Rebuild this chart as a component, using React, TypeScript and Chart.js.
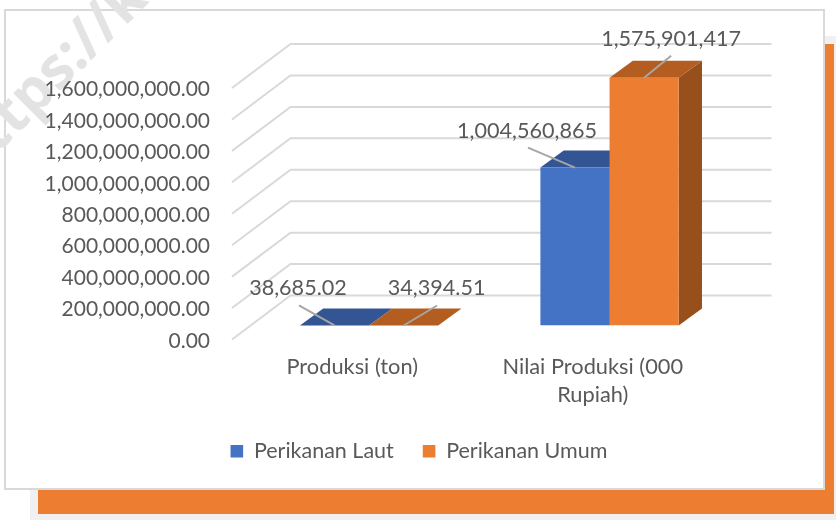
import React, { useEffect, useRef } from "react";
import { Chart, registerables } from "chart.js";

Chart.register(...registerables);

const categories: (string | string[])[] = ["Produksi (ton)", ["Nilai Produksi (000", "Rupiah)"]];
const seriesNames = ["Perikanan Laut", "Perikanan Umum"];
const perikananLaut = [38685.02, 1004560865];
const perikananUmum = [34394.51, 1575901417];
const yMax = 1600000000;
const yStep = 200000000;

const FONT = "Lato, 'Open Sans', sans-serif";
const TEXT = "#595959";
const GRID = "#d9d9d9";
const LEADER = "#a6a6a6";
const FILL = ["#4472c4", "#ed7d31"];
const TOP_FACE = ["#335593", "#b35d20"];
const SIDE_FACE = ["#2a4a80", "#97501b"];

// Perspective of the chart's box
const WALL = { dx: 58.5, dy: -44 };
const BAR_SHIFT = { dx: 16.8, dy: -14 };
const BAR_DEPTH = { dx: 23.3, dy: -17 };
const LEGEND_SHIFT = 62.5;
const MARKS_LIFT = -1.5; // tick text sits slightly below the line it labels

// Data label placement, relative to the middle of each bar's front top edge [series][category]
const LABEL_OFFSET = [
  [{ tx: -36.5, ty: -37, lx: -35.5, ly: -20 }, { tx: -48, ty: -37, lx: -47, ly: -20 }],
  [{ tx: 33, ty: -37, lx: 33.5, ly: -20 }, { tx: 27, ty: -39, lx: 27, ly: -22 }],
];

const fmt = (v: number, digits: number) =>
  v.toLocaleString("en-US", { minimumFractionDigits: digits, maximumFractionDigits: digits });

const box3d = {
  id: "box3d",
  afterLayout(chart: any) {
    chart.legend.left += LEGEND_SHIFT;
    chart.legend.right += LEGEND_SHIFT;
  },
  beforeDatasetsDraw(chart: any) {
    const { ctx, chartArea, scales } = chart;
    const y = scales.y;
    ctx.save();
    ctx.translate(0, MARKS_LIFT);
    ctx.strokeStyle = GRID;
    ctx.lineWidth = 2;
    y.ticks.forEach((_: any, i: number) => {
      const py = y.getPixelForTick(i);
      ctx.beginPath();
      ctx.moveTo(chartArea.left, py);
      ctx.lineTo(chartArea.left + WALL.dx, py + WALL.dy);
      ctx.lineTo(chartArea.right + WALL.dx, py + WALL.dy);
      ctx.stroke();
    });
    ctx.translate(BAR_SHIFT.dx, BAR_SHIFT.dy);
    chart.data.datasets.forEach((_: any, d: number) => {
      chart.getDatasetMeta(d).data.forEach((bar: any) => {
        const { x, y: top, base, width } = bar.getProps(["x", "y", "base", "width"], true);
        const l = x - width / 2;
        const r = x + width / 2;
        ctx.fillStyle = SIDE_FACE[d];
        ctx.beginPath();
        ctx.moveTo(r, top);
        ctx.lineTo(r + BAR_DEPTH.dx, top + BAR_DEPTH.dy);
        ctx.lineTo(r + BAR_DEPTH.dx, base + BAR_DEPTH.dy);
        ctx.lineTo(r, base);
        ctx.closePath();
        ctx.fill();
        ctx.fillStyle = TOP_FACE[d];
        ctx.beginPath();
        ctx.moveTo(l, top);
        ctx.lineTo(l + BAR_DEPTH.dx, top + BAR_DEPTH.dy);
        ctx.lineTo(r + BAR_DEPTH.dx, top + BAR_DEPTH.dy);
        ctx.lineTo(r, top);
        ctx.closePath();
        ctx.fill();
      });
    });
    // the bars' front faces are drawn by Chart.js inside this shift
  },
  afterDatasetsDraw(chart: any) {
    const { ctx } = chart;
    ctx.restore();
    ctx.save();
    ctx.translate(BAR_SHIFT.dx, BAR_SHIFT.dy + MARKS_LIFT);
    chart.data.datasets.forEach((ds: any, d: number) => {
      chart.getDatasetMeta(d).data.forEach((bar: any, c: number) => {
        const { x, y: top } = bar.getProps(["x", "y"], true);
        const o = LABEL_OFFSET[d][c];
        ctx.strokeStyle = LEADER;
        ctx.lineWidth = 2;
        ctx.beginPath();
        ctx.moveTo(x + o.lx, top + o.ly);
        ctx.lineTo(x, top);
        ctx.stroke();
        const v = ds.data[c];
        ctx.font = `21.6px ${FONT}`;
        ctx.fillStyle = TEXT;
        ctx.textAlign = "center";
        ctx.textBaseline = "middle";
        ctx.fillText(fmt(v, Number.isInteger(v) ? 0 : 2), x + o.tx, top + o.ty);
      });
    });
    ctx.restore();
  },
};

const page: React.CSSProperties = { position: "fixed", left: 0, top: 0, width: 836, height: 520, background: "#fff", overflow: "hidden" };
const abs = (left: number, top: number, width: number, height: number, extra: React.CSSProperties = {}): React.CSSProperties => ({
  position: "absolute", left, top, width, height, boxSizing: "border-box", ...extra,
});

export default function App() {
  const ref = useRef<HTMLCanvasElement>(null);
  useEffect(() => {
    const chart = new Chart(ref.current!, {
      type: "bar",
      data: {
        labels: categories as any,
        datasets: [
          { label: seriesNames[0], data: perikananLaut, backgroundColor: FILL[0] },
          { label: seriesNames[1], data: perikananUmum, backgroundColor: FILL[1] },
        ],
      },
      plugins: [box3d],
      options: {
        animation: false,
        responsive: false,
        layout: { padding: { left: 0, right: 123, top: 89.5, bottom: 48 } },
        datasets: { bar: { categoryPercentage: 0.575, barPercentage: 1 } },
        plugins: {
          title: { display: false },
          tooltip: { enabled: false },
          legend: {
            position: "bottom",
            labels: { boxWidth: 12.6, boxHeight: 12.6, padding: 29, color: TEXT, font: { family: FONT, size: 21.5 } },
          },
        },
        scales: {
          x: {
            grid: { display: false },
            border: { display: false },
            afterFit: (s: any) => { s.height = 70.5; },
            ticks: { color: TEXT, padding: 3.5, maxRotation: 0, autoSkip: false, font: { family: FONT, size: 21.8, lineHeight: 1.3 } },
          },
          y: {
            min: 0,
            max: yMax,
            grid: { display: false },
            border: { display: false },
            afterFit: (s: any) => { s.width = 232; },
            ticks: {
              stepSize: yStep,
              color: TEXT,
              padding: 14,
              font: { family: FONT, size: 21 },
              callback: (v: any) => fmt(Number(v), 2),
            },
          },
        },
      } as any,
    });
    return () => chart.destroy();
  }, []);
  return (
    <div style={page}>
      <div style={abs(30, 36, 806, 484, { background: "#f0f0f0" })} />
      <div style={abs(38, 44, 796, 470, { background: "#ed7d31" })} />
      <div style={abs(4, 9, 821, 481, { background: "#fff", border: "2px solid #d9d9d9" })} />
      <div
        style={{
          position: "absolute", left: -46, top: 126, color: "#e3e3e3", fontFamily: "'Open Sans', sans-serif",
          fontWeight: 700, fontSize: 58, transform: "rotate(-45deg)", transformOrigin: "left center", whiteSpace: "nowrap",
        }}
      >
        https://ke
      </div>
      <canvas ref={ref} width={836} height={520} style={{ position: "absolute", left: 0, top: 0 }} />
    </div>
  );
}
